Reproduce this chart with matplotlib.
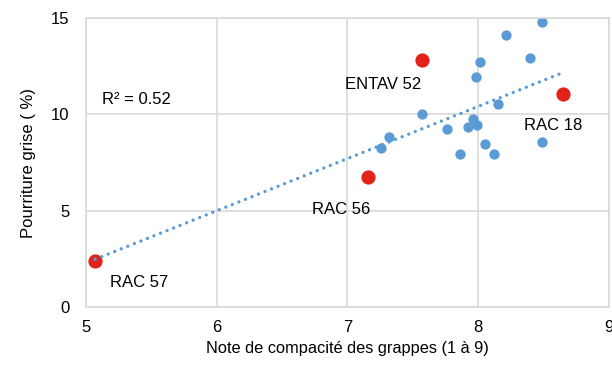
import matplotlib
matplotlib.use("Agg")
from matplotlib import pyplot as plt
import numpy as np

plt.rcParams['font.family'] = ['Liberation Sans', 'DejaVu Sans']

# données
x_bleu = [8.49, 8.21, 8.40, 8.01, 7.98, 8.15, 7.57, 7.96, 7.92, 7.99, 7.76,
          7.32, 7.26, 8.05, 8.49, 7.86, 8.12]
y_bleu = [14.78, 14.10, 12.93, 12.71, 11.95, 10.53, 10.00, 9.74, 9.35, 9.44, 9.23,
          8.82, 8.26, 8.47, 8.57, 7.94, 7.94]
noms_rouge = ['ENTAV 52', 'RAC 18', 'RAC 56', 'RAC 57']
x_rouge = [7.57, 8.65, 7.16, 5.07]
y_rouge = [12.81, 11.08, 6.74, 2.39]

fig = plt.figure(figsize=(6.12, 3.83), dpi=100)
ax = fig.add_axes([0.1405, 0.1984, 0.8545, 0.7546])

# courbe de tendance linéaire
xx = np.array(x_bleu + x_rouge)
yy = np.array(y_bleu + y_rouge)
a, b = np.polyfit(xx, yy, 1)
xt = np.array([xx.min(), xx.max()])
ax.plot(xt, a * xt + b, color='#5b9bd5', lw=2.4, linestyle=(0, (0.01, 2.1)),
        dash_capstyle='round', zorder=3)

ax.scatter(x_bleu, y_bleu, s=55, color='#5b9bd5', zorder=2, linewidths=0)
ax.scatter(x_rouge, y_rouge, s=105, color='#e2231a', zorder=2, linewidths=0)

# étiquettes
pos = {'ENTAV 52': (7.27, 11.55), 'RAC 18': (8.57, 9.4),
       'RAC 56': (6.95, 5.05), 'RAC 57': (5.41, 1.25)}
for n in noms_rouge:
    ax.text(pos[n][0], pos[n][1], n, fontsize=12, ha='center', va='center')
ax.text(5.12, 10.75, 'R² = 0.52', fontsize=12, ha='left', va='center')

ax.set_xlim(5, 9)
ax.set_ylim(0, 15)
ax.set_xticks([5, 6, 7, 8, 9])
ax.set_yticks([0, 5, 10, 15])
ax.grid(True, color='#d9d9d9', lw=1.2)
ax.set_axisbelow(True)
for s in ax.spines.values():
    s.set_color('#d9d9d9')
    s.set_linewidth(1.2)
ax.tick_params(length=0, labelsize=12)
ax.tick_params(axis='x', pad=9)
ax.tick_params(axis='y', pad=12)
ax.set_xlabel('Note de compacité des grappes (1 à 9)', fontsize=11.8, labelpad=5)
ax.set_ylabel('Pourriture grise ( %)', fontsize=12, labelpad=11)

fig.savefig('out.png', dpi=100)
